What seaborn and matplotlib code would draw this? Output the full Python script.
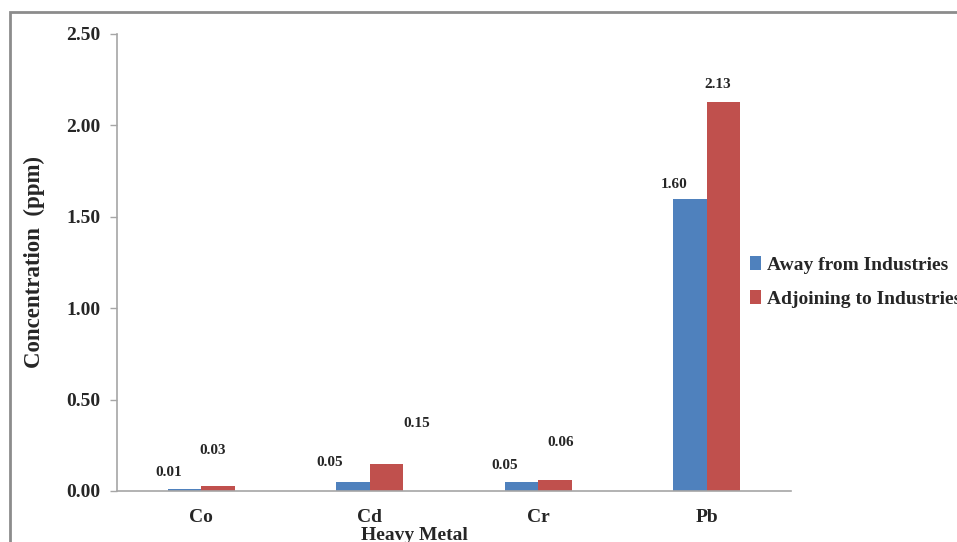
import pandas as pd
import matplotlib.pyplot as plt
import seaborn as sns
from matplotlib.patches import Rectangle
from matplotlib.ticker import FormatStrFormatter

# data
METALS = ['Co', 'Cd', 'Cr', 'Pb']
SITES = ['Away from Industries', 'Adjoining to Industries']
AWAY = [0.01, 0.05, 0.05, 1.60]
ADJOINING = [0.03, 0.15, 0.06, 2.13]

COLORS = {'Away from Industries': '#4F81BD', 'Adjoining to Industries': '#C0504D'}

# label offsets (points) from the top-centre of each bar, as placed in the original
LABEL_OFFSETS = {
    'Away from Industries': [(-11, 12), (-17, 14), (-12, 12), (-11, 10)],
    'Adjoining to Industries': [(-4, 25), (22, 29), (4, 27), (-4, 12)],
}

rows = []
for site, vals in zip(SITES, [AWAY, ADJOINING]):
    for metal, v in zip(METALS, vals):
        rows.append({'Metal': metal, 'Site': site, 'Value': v})
df = pd.DataFrame(rows)

sns.set_theme(style="white")
plt.rcParams['font.family'] = ['Liberation Serif', 'DejaVu Serif']
plt.rcParams['font.weight'] = 'bold'

fig = plt.figure(figsize=(9.57, 5.42), dpi=100)
ax = fig.add_axes([0.1223, 0.0941, 0.7042, 0.8432])

sns.barplot(data=df, x='Metal', y='Value', hue='Site', order=METALS,
            hue_order=SITES, palette=COLORS, width=0.4, gap=0,
            saturation=1, linewidth=0, ax=ax, legend=True)

for site, container in zip(SITES, ax.containers):
    for bar, (dx, dy) in zip(container, LABEL_OFFSETS[site]):
        h = bar.get_height()
        ax.annotate(f'{h:.2f}', (bar.get_x() + bar.get_width() / 2, h),
                    xytext=(dx, dy), textcoords='offset points',
                    ha='center', va='center', fontsize=11, fontweight='bold')

ax.set_ylim(0, 2.5)
ax.set_xlim(-0.5, 3.5)
ax.set_yticks([0, 0.5, 1.0, 1.5, 2.0, 2.5])
ax.yaxis.set_major_formatter(FormatStrFormatter('%.2f'))
ax.tick_params(axis='y', left=True, length=5, width=1, color='#A6A6A6',
               labelsize=14, pad=7)
ax.tick_params(axis='x', bottom=False, labelsize=14, pad=7)
for lab in ax.get_xticklabels() + ax.get_yticklabels():
    lab.set_fontweight('bold')

sns.despine(ax=ax)
for side in ['left', 'bottom']:
    ax.spines[side].set_color('#A6A6A6')
    ax.spines[side].set_linewidth(1.2)

ax.set_xlabel('Heavy Metal', fontsize=14, fontweight='bold')
ax.xaxis.set_label_coords(0.442, -0.079)
ax.set_ylabel('Concentration  (ppm)', fontsize=16.5, fontweight='bold', labelpad=15)

ax.legend(loc='center left', bbox_to_anchor=(0.765, 0.48),
          bbox_transform=fig.transFigure, frameon=False,
          prop={'size': 14, 'weight': 'bold'}, handlelength=0.6,
          handleheight=0.7, handletextpad=0.3, labelspacing=0.85)

# outer chart frame (cut off on the right and bottom in the original)
fig.patches.append(Rectangle((10 / 957, -0.1), 1.2, 0.1 + (1 - 12 / 542),
                             transform=fig.transFigure, fill=False,
                             edgecolor='#8C8C8C', linewidth=2, zorder=0))

fig.savefig('out.png', dpi=100)
